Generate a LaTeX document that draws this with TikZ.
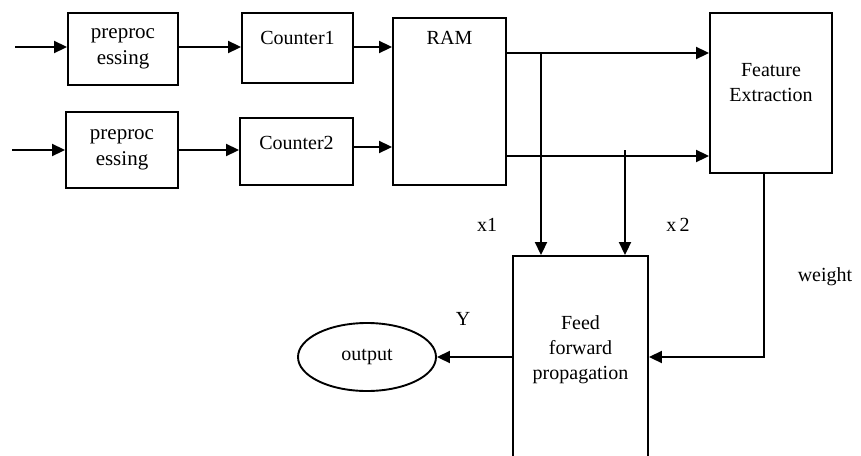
\documentclass[tikz,border=0pt]{standalone}
\usepackage{fontspec}
\setmainfont{Liberation Serif}
\usetikzlibrary{positioning, calc, arrows.meta, shapes.geometric}
\tikzset{
    block/.style={draw, line width=1.9pt, align=center, inner sep=0pt},
    lbl/.style={inner sep=0pt, align=center},
    arr/.style={line width=1.9pt, -{Triangle[length=13pt,width=12pt]}}
}
\newcommand{\boxtext}[1]{\fontsize{20}{25}\selectfont #1}

\begin{document}
\begin{tikzpicture}[x=1pt, y=1pt, font=\boxtext{}]
    \useasboundingbox (0,0) rectangle (861,-455);
    \clip (0,0) rectangle (861,-455);
    % blocks
    \node[block, minimum width=110, minimum height=72, font=\fontsize{21}{26}\selectfont] (pre1) at (123,-49) {preproc\\essing};
    \node[block, minimum width=112, minimum height=76, font=\fontsize{21}{26}\selectfont] (pre2) at (122,-150) {preproc\\essing};
    \node[block, minimum width=111, minimum height=70,
          label={[lbl, anchor=north, yshift=-19]north:Counter1}] (cnt1) at (297.5,-48) {};
    \node[block, minimum width=113, minimum height=67,
          label={[lbl, anchor=north, yshift=-19]north:Counter2}] (cnt2) at (296.5,-151.5) {};
    \node[block, minimum width=113, minimum height=167,
          label={[lbl, anchor=north, yshift=-14]north:RAM}] (ram) at (449.5,-101.5) {};
    \node[block, minimum width=122, minimum height=160,
          label={[lbl, anchor=north, yshift=-51]north:Feature\\Extraction}] (fe) at (771,-93) {};
    \node[block, minimum width=135, minimum height=202,
          label={[lbl, anchor=north, yshift=-60]north:Feed\\forward\\propagation}] (ff) at (580.5,-357) {};
    \node[block, ellipse, minimum width=138, minimum height=68] (out) at (367,-357) {output};
    % inputs
    \coordinate (in1) at (15,-47);
    \coordinate (in2) at (12,-150);
    \draw[arr] (in1) -- (in1 -| pre1.west);
    \draw[arr] (in2) -- (in2 -| pre2.west);
    \draw[arr] (in1 -| pre1.east) -- (in1 -| cnt1.west);
    \draw[arr] (in2 -| pre2.east) -- (in2 -| cnt2.west);
    \coordinate (c2) at (353,-147);
    \draw[arr] (in1 -| cnt1.east) -- (in1 -| ram.west);
    \draw[arr] (c2) -- (c2 -| ram.west);
    % RAM to feature extraction
    \coordinate (r1) at (506,-53);
    \coordinate (r2) at (506,-156);
    \draw[arr] (r1) -- (r1 -| fe.west);
    \draw[arr] (r2) -- (r2 -| fe.west);
    % branches
    \coordinate (b1) at (541,-53);
    \coordinate (b2) at (625,-150);
    \draw[arr] (b1) -- (b1 |- ff.north);
    \draw[arr] (b2) -- (b2 |- ff.north);
    \coordinate (w1) at (764,-173);
    \draw[arr] (w1) |- (ff.east);
    \draw[arr] (ff.west) -- (out.east);
    % labels
    \node[lbl] (lx1) at (487,-225) {x1};
    \node[lbl] (lx2) at (678,-225) {x\,2};
    \node[lbl] (lw) at (825,-277) {weight};
    \node[lbl] (ly) at (463,-319) {Y};
\end{tikzpicture}
\end{document}
